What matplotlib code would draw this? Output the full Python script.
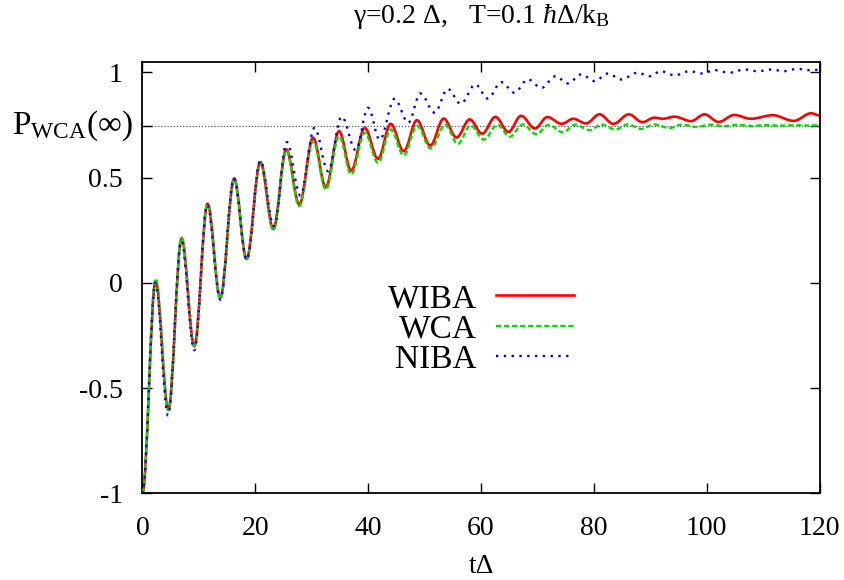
"""Relaxation of P(t): WIBA vs WCA vs NIBA, gamma=0.2, T=0.1."""

import matplotlib
matplotlib.use("Agg")
import matplotlib.pyplot as plt
from matplotlib.path import Path
from matplotlib.patches import PathPatch
from matplotlib.lines import Line2D
import matplotlib.transforms as mtransforms

plt.rcParams["font.family"] = ["Liberation Serif", "DejaVu Serif"]
plt.rcParams["mathtext.fontset"] = "custom"
plt.rcParams["mathtext.rm"] = "Liberation Serif"
plt.rcParams["mathtext.it"] = "Liberation Serif:italic"

# === DATA (extrema: time, value) ===
wiba_t = [0, 2.35, 4.6, 6.95, 9.2, 11.55, 13.8, 16.27, 18.45, 20.9, 23.2, 25.5,
          27.8, 30.25, 32.5, 34.85, 37.0, 39.4, 41.75, 44.0, 46.3, 48.65, 51.0,
          53.4, 55.65, 58.0, 60.2, 62.55, 64.85, 67.1, 69.55, 71.75, 74.3, 76.35,
          78.6, 81.0, 83.45, 86.2, 88.6, 90.7, 92.2, 94.3, 97.2, 99.6, 102.1,
          104.9, 107.8, 111.7, 115.4, 118.5, 120]
wiba_p = [-1.0, 0.008, -0.602, 0.21, -0.30, 0.375, -0.07, 0.495, 0.114, 0.573,
          0.256, 0.633, 0.372, 0.689, 0.454, 0.72, 0.533, 0.736, 0.589, 0.755,
          0.625, 0.772, 0.652, 0.78, 0.69, 0.776, 0.708, 0.788, 0.716, 0.793,
          0.733, 0.787, 0.755, 0.779, 0.757, 0.80, 0.755, 0.80, 0.763, 0.784,
          0.779, 0.789, 0.768, 0.80, 0.764, 0.797, 0.779, 0.796, 0.769, 0.805,
          0.795]

wca_t = [0, 2.35, 4.6, 6.95, 9.2, 11.55, 13.8, 16.27, 18.45, 20.9, 23.2, 25.5,
         27.8, 30.25, 32.5, 34.85, 37.0, 39.4, 41.75, 44.0, 46.3, 48.65, 51.1,
         53.65, 55.9, 58.15, 60.5, 62.9, 65.1, 67.4, 69.8, 72.0, 74.5, 76.7, 79.2,
         81.4, 83.8, 86.0, 88.4, 90.7, 93.4, 95.7, 98.1, 100.8, 103.0, 105.5,
         108.0, 110.5, 113.0, 115.5, 118.0, 120]
wca_p = [-1.0, 0.02, -0.605, 0.215, -0.305, 0.375, -0.075, 0.49, 0.11, 0.568,
         0.25, 0.628, 0.365, 0.672, 0.443, 0.697, 0.515, 0.713, 0.570, 0.728,
         0.605, 0.745, 0.638, 0.75, 0.66, 0.747, 0.68, 0.75, 0.694, 0.752, 0.706,
         0.75, 0.715, 0.751, 0.725, 0.751, 0.728, 0.752, 0.731, 0.752, 0.735,
         0.752, 0.74, 0.751, 0.744, 0.75, 0.745, 0.749, 0.746, 0.749, 0.747, 0.748]

niba_t = [0, 2.3, 4.55, 6.9, 9.2, 11.5, 13.8, 16.2, 18.5, 20.9, 23.3, 25.6, 28.0,
          30.5, 32.9, 35.3, 37.8, 40.0, 42.05, 44.7, 47.1, 49.25, 51.8, 54.1,
          56.4, 59.0, 61.2, 63.6, 65.9, 68.3, 70.7, 73.2, 75.4, 77.75, 80.1, 82.5,
          84.8, 87.8, 89.8, 91.9, 94.3, 96.9, 99.3, 101.3, 104.0, 106.7, 109.0,
          111.5, 113.6, 116.0, 118.0, 120]
niba_p = [-1.0, 0.0, -0.63, 0.20, -0.32, 0.37, -0.08, 0.495, 0.11, 0.58, 0.27,
          0.668, 0.415, 0.736, 0.53, 0.789, 0.63, 0.831, 0.68, 0.874, 0.76, 0.899,
          0.808, 0.921, 0.85, 0.942, 0.875, 0.953, 0.903, 0.966, 0.926, 0.981,
          0.947, 0.99, 0.958, 0.994, 0.966, 0.998, 0.981, 1.005, 0.985, 1.005,
          0.994, 1.01, 0.998, 1.013, 1.005, 1.013, 1.005, 1.016, 1.01, 1.012]

p_inf = 0.747  # P_WCA(infinity)

ytick_vals = [-1, -0.5, 0, 0.5, p_inf, 1]
ytick_labels = ["-1", "-0.5", "0", "0.5", "", "1"]
xtick_vals = [0, 20, 40, 60, 80, 100, 120]


def wave_path(ts, ps):
    # cubic segments with flat tangents at each extremum (cosine-like arcs)
    verts = [(ts[0], ps[0])]
    codes = [Path.MOVETO]
    for t0, p0, t1, p1 in zip(ts[:-1], ps[:-1], ts[1:], ps[1:]):
        h = 0.3634 * (t1 - t0)
        verts += [(t0 + h, p0), (t1 - h, p1), (t1, p1)]
        codes += [Path.CURVE4] * 3
    return Path(verts, codes)


FS = 20       # tick labels, title, x label
FS_BIG = 24   # legend and P_WCA label
fig = plt.figure(figsize=(8.45, 5.8), dpi=100)
ax = fig.add_axes([0.1685, 0.1495, 0.8015, 0.7441])

ax.axhline(p_inf, color="#555555", lw=0.9, ls=(0, (1, 1.5)), zorder=1)

styles = [
    ("WIBA", wiba_t, wiba_p, dict(color="#ff0000", lw=1.9, ls="-")),
    ("WCA", wca_t, wca_p, dict(color="#00e000", lw=1.7, ls=(0, (2.2, 1.2)))),
    ("NIBA", niba_t, niba_p, dict(color="#0000ff", lw=1.7, ls=(0, (1, 2.3)))),
]
handles = []
for i, (name, ts, ps, st) in enumerate(styles):
    patch = PathPatch(wave_path(ts, ps), fill=False, edgecolor=st["color"],
                      lw=st["lw"], linestyle=st["ls"], zorder=2 + i,
                      capstyle="butt")
    ax.add_patch(patch)
    handles.append(Line2D([], [], color=st["color"], lw=st["lw"], ls=st["ls"],
                          label=name))

ax.set_xlim(0, 120)
ax.set_ylim(-1, 1.05)
ax.set_xticks(xtick_vals)
ax.set_yticks(ytick_vals)
ax.set_yticklabels(ytick_labels)
ax.tick_params(direction="in", length=7, width=1, top=True, right=True,
               labelsize=FS)
ax.tick_params(axis="y", pad=14)
ax.tick_params(axis="x", pad=16)
for s in ax.spines.values():
    s.set_linewidth(1.3)

trans = mtransforms.blended_transform_factory(ax.transAxes, ax.transData)
ax.text(-0.015, p_inf, r"P$_{\rm WCA}$(∞)", transform=trans, ha="right",
        va="center", fontsize=FS_BIG)

ax.set_xlabel("tΔ", fontsize=FS, labelpad=10)
ax.set_title(r"γ=0.2 Δ,   T=0.1 $\hbar$Δ/k$_{\rm B}$", fontsize=FS, pad=28)

ax.legend(handles=handles, loc="center", bbox_to_anchor=(0.5, 0.38),
          frameon=False, markerfirst=False, fontsize=FS_BIG, handlelength=2.35,
          handletextpad=0.57, labelspacing=0.0, borderpad=0)

fig.savefig("out.png", dpi=100)
